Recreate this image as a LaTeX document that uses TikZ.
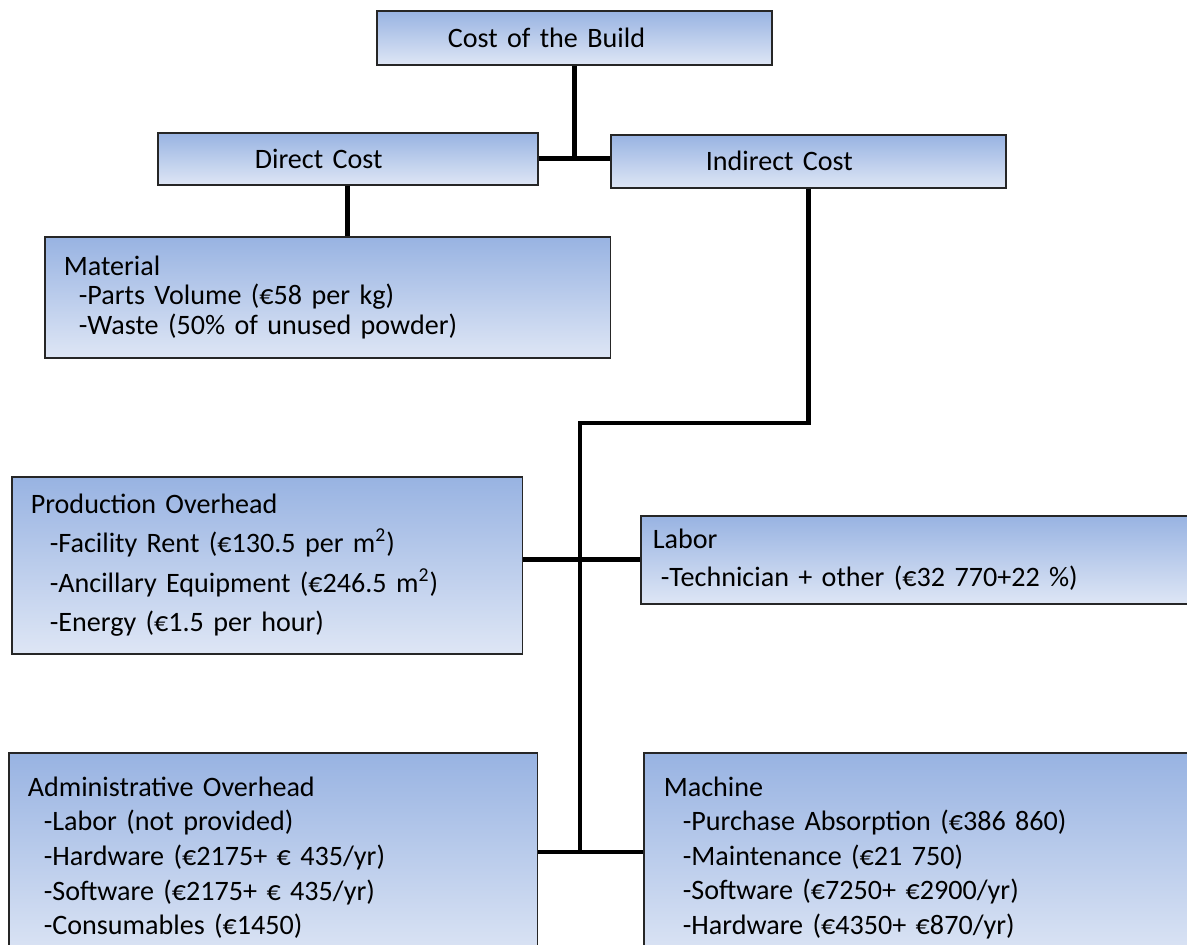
\documentclass[tikz,border=0pt]{standalone}
\usepackage{fontspec}
\setmainfont{Carlito}
\usepackage{tikz}
\usetikzlibrary{positioning}
\usepackage{xcolor}

\definecolor{boxtop}{RGB}{152,179,226}
\definecolor{boxbottom}{RGB}{222,230,245}

\begin{document}
\begin{tikzpicture}[
		x=0.02cm, y=-0.02cm,
		costbox/.style={rectangle, draw=black!85, line width=0.9pt, top color=boxtop, bottom color=boxbottom, anchor=north west, align=left, inner ysep=2pt, font=\fontsize{16}{19}\selectfont},
		link/.style={line width=2.6pt},
		]
		\useasboundingbox (0,0) rectangle (1187,945);
		\clip (0,0) rectangle (1187,945);
		
		%Nodes
		\node[costbox, text width=5.06cm, inner xsep=1.42cm, minimum height=1.08cm] (build)    at (376,10)  {Cost of the Build};
		\node[costbox, text width=3.72cm, inner xsep=1.94cm, minimum height=1.04cm] (direct)   at (157,132) {Direct Cost};
		\node[costbox, text width=4.1cm,  inner xsep=1.9cm,  minimum height=1.06cm] (indirect) at (610,134) {Indirect Cost};
		
		\node[costbox, text width=10.56cm, inner xsep=0.38cm, minimum height=2.42cm, font=\fontsize{16}{16.8}\selectfont] (material) at (44,236)
			{Material\\ \hspace*{0.3cm}-Parts Volume (€58 per kg)\\ \hspace*{0.3cm}-Waste (50\% of unused powder)};
		
		\node[costbox, text width=9.46cm, inner xsep=0.38cm, minimum height=3.54cm, font=\fontsize{16}{22.5}\selectfont] (production) at (11,476)
			{Production Overhead\\ \hspace*{0.38cm}-Facility Rent (€130.5 per m\textsuperscript{2})\\ \hspace*{0.38cm}-Ancillary Equipment (€246.5 m\textsuperscript{2})\\ \hspace*{0.38cm}-Energy (€1.5 per hour)};
		
		\node[costbox, text width=10.92cm, inner xsep=0.24cm, minimum height=1.76cm, font=\fontsize{16}{21.5}\selectfont] (labor) at (640,515)
			{Labor\\ \hspace*{0.16cm}-Technician + other (€32 770+22 \%)};
		
		\node[costbox, text width=9.82cm, inner xsep=0.38cm, minimum height=4.2cm, font=\fontsize{16}{19.7}\selectfont] (admin) at (8,752)
			{Administrative Overhead\\ \hspace*{0.32cm}-Labor (not provided)\\ \hspace*{0.32cm}-Hardware (€2175+ € 435/yr)\\ \hspace*{0.32cm}-Software (€2175+ € 435/yr)\\ \hspace*{0.32cm}-Consumables (€1450)};
		
		\node[costbox, text width=10.4cm, inner xsep=0.4cm, minimum height=4.2cm, font=\fontsize{16}{19.7}\selectfont] (machine) at (643,752)
			{Machine\\ \hspace*{0.38cm}-Purchase Absorption (€386 860)\\ \hspace*{0.38cm}-Maintenance (€21 750)\\ \hspace*{0.38cm}-Software (€7250+ €2900/yr)\\ \hspace*{0.38cm}-Hardware (€4350+ €870/yr)};
		
		\coordinate (bend) at (580,423);
		\coordinate (foot) at (580,852);
		
		%Lines
		\draw[link] (build.south) -- (build.south |- direct.east);
		\draw[link] (direct.east) -- (indirect.west |- direct.east);
		\draw[link] (direct.south) -- (direct.south |- material.north);
		\draw[link] (indirect.south) |- (bend) -- (foot);
		\draw[link] (production.east |- labor.west) -- (labor.west);
		\draw[link] (admin.east |- foot) -- (machine.west |- foot);
		
	\end{tikzpicture}
\end{document}
